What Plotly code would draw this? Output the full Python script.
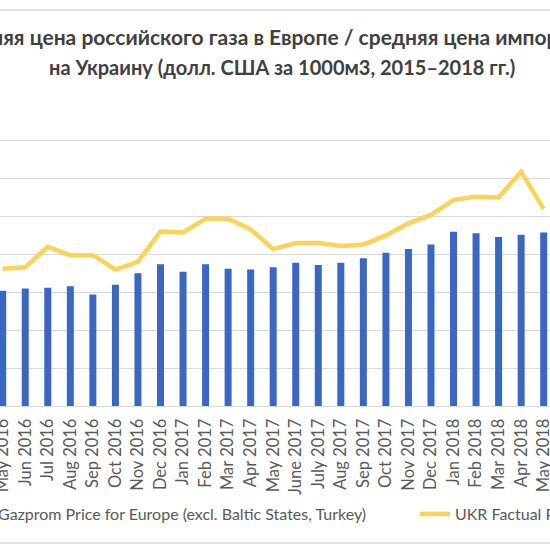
import plotly.graph_objects as go

months = ["May 2016", "Jun 2016", "Jul 2016", "Aug 2016", "Sep 2016", "Oct 2016",
          "Nov 2016", "Dec 2016", "Jan 2017", "Feb 2017", "Mar 2017", "Apr 2017",
          "May 2017", "June 2017", "July 2017", "Aug 2017", "Sep 2017", "Oct 2017",
          "Nov 2017", "Dec 2017", "Jan 2018", "Feb 2018", "Mar 2018", "Apr 2018",
          "May 2018"]

gazprom_europe = [152, 155, 156, 158, 147, 160, 175, 187, 177, 187, 181, 180,
                  183, 189, 186, 189, 195, 202, 207, 213, 230, 228, 223, 226, 229]

ukr_factual = [181, 183, 210, 199, 199, 180, 190, 230, 229, 247, 247, 233,
               207, 215, 215, 211, 213, 225, 241, 252, 272, 276, 275, 309, 260]

title_lines = ["Средняя цена российского газа в Европе / средняя цена импорта газа",
               "на Украину (долл. США за 1000м3, 2015–2018 гг.)"]

FONT = "Lato"
W, H = 550, 549
TOP, BOT = 102, 406          # plot area top / bottom in pixels
PH = BOT - TOP


def py(ypx):
    """pixel row -> paper y"""
    return (BOT - ypx) / PH


fig = go.Figure()
fig.add_bar(x=months, y=gazprom_europe,
            name="Gazprom Price for Europe (excl. Baltic States, Turkey)",
            marker=dict(color="#3A66C4", line_width=0), legend="legend")
fig.add_scatter(x=months, y=ukr_factual, mode="lines", name="UKR Factual Price",
                line=dict(color="#FAD45A", width=4.5), legend="legend2")

legend_common = dict(orientation="h", yanchor="middle", xanchor="left",
                     font=dict(size=16, color="#595959"),
                     bgcolor="rgba(0,0,0,0)", borderwidth=0)

fig.update_layout(
    width=W, height=H,
    margin=dict(l=0, r=0, t=TOP, b=H - BOT, pad=0, autoexpand=False),
    paper_bgcolor="white", plot_bgcolor="white",
    bargap=0.69,
    font=dict(family=FONT, color="#595959"),
    showlegend=True,
    legend=dict(x=-42 / W, y=py(514), **legend_common),
    legend2=dict(x=415 / W, y=py(514), **legend_common),
    xaxis=dict(type="category", range=[-0.12, 24.28], tickangle=-90,
               tickfont=dict(size=16.5, color="#595959"), ticks="",
               ticklabelstandoff=5, automargin=False,
               showgrid=False, showline=True, linecolor="#D9D9D9", linewidth=1),
    yaxis=dict(range=[0, 401], dtick=50, showticklabels=False, ticks="",
               automargin=False,
               gridcolor="#D9D9D9", gridwidth=1, zeroline=False),
)

fig.add_annotation(text="<b>" + title_lines[0] + "</b>", xref="paper", yref="paper",
                   x=282 / W, y=py(37), xanchor="center", yanchor="middle",
                   showarrow=False, font=dict(size=21, color="#404040", family=FONT))
fig.add_annotation(text="<b>" + title_lines[1] + "</b>", xref="paper", yref="paper",
                   x=282 / W, y=py(67), xanchor="center", yanchor="middle",
                   showarrow=False, font=dict(size=20, color="#404040", family=FONT))

for ypx in (10, 543):
    fig.add_shape(type="line", xref="paper", yref="paper", x0=-0.1, x1=1.1,
                  y0=py(ypx), y1=py(ypx),
                  line=dict(color="#D9D9D9", width=1.5))

fig.write_html("out.html", config={"displayModeBar": False},
               post_script="document.body.style.margin='0px';")
